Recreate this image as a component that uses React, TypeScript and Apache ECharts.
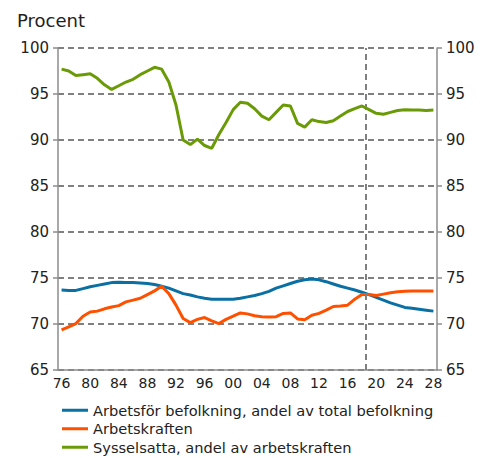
import React, { useEffect, useRef } from "react";
import * as echarts from "echarts";

const years: number[] = [];
for (let y = 1976; y <= 2028; y++) years.push(y);
const yearLabels = years.map((y) => String(y % 100).padStart(2, "0"));

const arbetsfor = [
  73.7, 73.65, 73.65, 73.85, 74.05, 74.2, 74.35, 74.5, 74.55, 74.5,
  74.5, 74.45, 74.4, 74.3, 74.1, 73.9, 73.6, 73.3, 73.15, 72.95,
  72.8, 72.7, 72.7, 72.7, 72.7, 72.8, 72.95, 73.1, 73.3, 73.55,
  73.9, 74.15, 74.4, 74.65, 74.8, 74.9, 74.8, 74.6, 74.35, 74.1,
  73.9, 73.7, 73.45, 73.2, 72.9, 72.6, 72.3, 72.05, 71.8, 71.7,
  71.6, 71.5, 71.4,
];
const arbetskraften = [
  69.35, 69.7, 70.05, 70.85, 71.3, 71.4, 71.65, 71.85, 72.0, 72.4,
  72.6, 72.8, 73.2, 73.6, 74.1, 73.3, 72.05, 70.6, 70.15, 70.5,
  70.7, 70.35, 70.05, 70.5, 70.85, 71.2, 71.1, 70.9, 70.8, 70.75,
  70.8, 71.15, 71.2, 70.55, 70.45, 70.95, 71.15, 71.5, 71.9, 71.95,
  72.05, 72.7, 73.2, 73.2, 73.1, 73.25, 73.4, 73.5, 73.55, 73.6,
  73.6, 73.6, 73.6,
];
const sysselsatta = [
  97.7, 97.5, 97.0, 97.1, 97.2, 96.7, 96.0, 95.5, 95.9, 96.3,
  96.6, 97.1, 97.5, 97.9, 97.7, 96.3, 93.8, 90.0, 89.5, 90.1,
  89.4, 89.1, 90.6, 91.9, 93.3, 94.1, 94.0, 93.4, 92.6, 92.2,
  93.0, 93.8, 93.7, 91.8, 91.4, 92.2, 92.0, 91.9, 92.1, 92.6,
  93.1, 93.4, 93.7, 93.3, 92.9, 92.8, 93.0, 93.2, 93.3, 93.25,
  93.25, 93.2, 93.25,
];
const seriesNames = [
  "Arbetsför befolkning, andel av total befolkning",
  "Arbetskraften",
  "Sysselsatta, andel av arbetskraften",
];
const colors = ["#0a6fa3", "#ff5000", "#6a9a06"];
const forecastStart = 2018.5;

const FONT = "DejaVu Sans";

export default function App() {
  const ref = useRef<HTMLDivElement>(null);
  useEffect(() => {
    if (!ref.current) return;
    const chart = echarts.init(ref.current, null, { renderer: "svg" });
    const dataSets = [arbetsfor, arbetskraften, sysselsatta];
    const gridLine = { color: "#808080", width: 2, type: [6, 4] as number[] };
    const axisStyle = { color: "#8c8c8c", width: 1.5 };
    chart.setOption({
      animation: false,
      textStyle: { fontFamily: FONT },
      title: {
        text: "Procent",
        left: 12,
        top: 6,
        textStyle: { fontFamily: FONT, fontSize: 18, fontWeight: "normal", color: "#222" },
      },
      legend: {
        orient: "vertical",
        left: 62,
        top: 401,
        padding: 0,
        itemWidth: 26,
        itemHeight: 3,
        itemGap: 0,
        icon: "rect",
        textStyle: { fontFamily: FONT, fontSize: 14.6, lineHeight: 18.5, color: "#222" },
        data: seriesNames,
      },
      grid: { left: 58, right: 51, top: 48, bottom: 88 },
      xAxis: [
        {
          type: "category",
          data: yearLabels,
          boundaryGap: true,
          axisLine: { lineStyle: axisStyle },
          axisTick: { interval: 0, length: 4, lineStyle: { color: "#222", width: 1 } },
          axisLabel: { interval: 3, fontFamily: FONT, fontSize: 14, color: "#222", margin: 6 },
          splitLine: { show: false },
        },
        {
          type: "value",
          min: 1975.5,
          max: 2028.5,
          show: false,
          splitLine: { show: false },
        },
      ],
      yAxis: [
        {
          type: "value",
          min: 65,
          max: 100,
          interval: 5,
          position: "left",
          axisLine: { show: true, lineStyle: axisStyle },
          axisTick: { show: true, length: 5, lineStyle: { color: "#8c8c8c", width: 1.5 } },
          axisLabel: { fontFamily: FONT, fontSize: 15, color: "#222", margin: 9 },
          splitLine: { show: true, lineStyle: gridLine },
        },
        {
          type: "value",
          min: 65,
          max: 100,
          interval: 5,
          position: "right",
          axisLine: { show: true, lineStyle: axisStyle },
          axisTick: { show: true, length: 5, lineStyle: { color: "#8c8c8c", width: 1.5 } },
          axisLabel: { fontFamily: FONT, fontSize: 15, color: "#222", margin: 9 },
          splitLine: { show: false },
        },
      ],
      series: dataSets.map((d, i) => ({
        name: seriesNames[i],
        type: "line",
        xAxisIndex: 1,
        yAxisIndex: 0,
        data: d.map((v, j) => [years[j], v]),
        showSymbol: false,
        symbol: "none",
        lineStyle: { color: colors[i], width: 3 },
        itemStyle: { color: colors[i] },
        z: 3 + i,
        markLine:
          i === 0
            ? {
                silent: true,
                symbol: "none",
                label: { show: false },
                lineStyle: gridLine,
                data: [{ xAxis: forecastStart }],
              }
            : undefined,
      })),
    });
    return () => chart.dispose();
  }, []);
  return (
    <div
      ref={ref}
      style={{ position: "absolute", left: 0, top: 0, width: 488, height: 458 }}
    />
  );
}
